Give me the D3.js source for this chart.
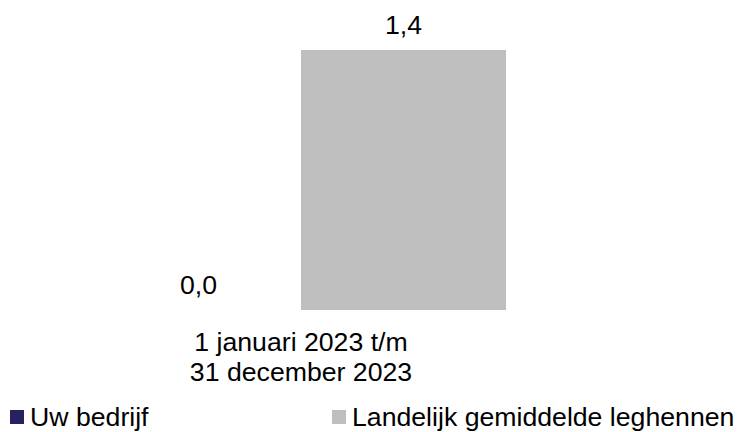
<!DOCTYPE html>
<html>
<head>
<meta charset="utf-8">
<script src="https://cdn.jsdelivr.net/npm/d3@7"></script>
<style>
  html, body { margin: 0; padding: 0; background: #fff; }
  svg { display: block; }
  text { font-family: Arial, "Liberation Sans", sans-serif; fill: #000; }
</style>
</head>
<body>
<script>
const categories = ["1 januari 2023 t/m\n31 december 2023"];
const seriesNames = ["Uw bedrijf", "Landelijk gemiddelde leghennen"];
const uwBedrijf = [0.0];
const landelijk = [1.4];
const seriesColors = ["#25225f", "#bfbfbf"];

const W = 737, H = 432;
const svg = d3.select("body").append("svg").attr("width", W).attr("height", H);

const x = d3.scaleBand().domain(categories).range([96, 506]).padding(0);
const xs = d3.scaleBand().domain(seriesNames).range([0, x.bandwidth()]).padding(0);
const y = d3.scaleLinear().domain([0, 1.4]).range([310, 50]);

const fmt = v => d3.format(".1f")(v).replace(".", ",");

const data = categories.map((c, i) => ({
  cat: c,
  vals: [
    { s: seriesNames[0], v: uwBedrijf[i], c: seriesColors[0] },
    { s: seriesNames[1], v: landelijk[i], c: seriesColors[1] }
  ]
}));

const g = svg.selectAll("g.cat").data(data).enter().append("g")
  .attr("transform", d => `translate(${x(d.cat)},0)`);

g.selectAll("rect").data(d => d.vals).enter().append("rect")
  .attr("x", d => xs(d.s))
  .attr("width", xs.bandwidth())
  .attr("y", d => y(d.v))
  .attr("height", d => y(0) - y(d.v))
  .attr("fill", d => d.c);

g.selectAll("text.val").data(d => d.vals).enter().append("text")
  .attr("class", "val")
  .attr("x", d => xs(d.s) + xs.bandwidth() / 2)
  .attr("y", d => y(d.v) - 16)
  .attr("text-anchor", "middle")
  .attr("font-size", "26.67px")
  .text(d => fmt(d.v));

// category labels
const cl = svg.selectAll("text.cat").data(categories).enter().append("text")
  .attr("class", "cat")
  .attr("text-anchor", "middle")
  .attr("font-size", "26.67px");
cl.each(function(d) {
  const lines = d.split("\n");
  d3.select(this).selectAll("tspan").data(lines).enter().append("tspan")
    .attr("x", x(d) + x.bandwidth() / 2)
    .attr("y", (l, i) => 351 + i * 30)
    .text(l => l);
});

// legend
const legX = [10, 332];
const leg = svg.selectAll("g.leg").data(seriesNames).enter().append("g")
  .attr("transform", (d, i) => `translate(${legX[i]},0)`);
leg.append("rect").attr("x", 0).attr("y", 410).attr("width", 14).attr("height", 14)
  .attr("fill", (d, i) => seriesColors[i]);
leg.append("text").attr("x", 20).attr("y", 426).attr("font-size", "26.67px").text(d => d);
</script>
</body>
</html>
